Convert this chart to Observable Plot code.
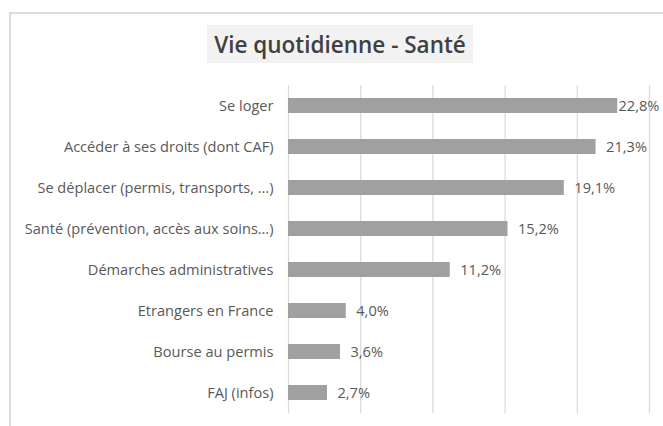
<!DOCTYPE html>
<html>
<head>
<meta charset="utf-8">
<script src="https://cdn.jsdelivr.net/npm/d3@7"></script>
<script src="https://cdn.jsdelivr.net/npm/@observablehq/plot@0.6"></script>
<style>
  html, body { margin: 0; padding: 0; background: #fff; width: 663px; height: 426px; overflow: hidden; }
  #frame { position: absolute; left: 9px; top: 12px; width: 800px; height: 600px; border: 2px solid #dcdcdc; box-sizing: border-box; }
  #title { position: absolute; left: 207px; top: 25px; width: 266px; height: 38px; background: #f2f2f2;
           font-family: "Open Sans", sans-serif; font-weight: 600; font-size: 22.5px; color: #404040;
           display: flex; align-items: center; justify-content: center; white-space: nowrap; }
  #chart { position: absolute; left: 0; top: 0; }
</style>
</head>
<body>
<div id="frame"></div>
<div id="title">Vie quotidienne - Santé</div>
<div id="chart"></div>
<script>
const categories = [
  "Se loger",
  "Accéder à ses droits (dont CAF)",
  "Se déplacer (permis, transports, …)",
  "Santé (prévention, accès aux soins…)",
  "Démarches administratives",
  "Etrangers en France",
  "Bourse au permis",
  "FAJ (infos)"
];
const values = [22.8, 21.3, 19.1, 15.2, 11.2, 4.0, 3.6, 2.7];
const valueLabels = ["22,8%", "21,3%", "19,1%", "15,2%", "11,2%", "4,0%", "3,6%", "2,7%"];
const gridTicks = [0, 5, 10, 15, 20, 25];

const data = categories.map((c, i) => ({category: c, value: values[i], label: valueLabels[i]}));

const chart = Plot.plot({
  width: 663,
  height: 426,
  marginLeft: 288,
  marginRight: 14,
  marginTop: 85,
  marginBottom: 13,
  style: {background: "transparent", fontFamily: "'Open Sans', sans-serif", color: "#595959"},
  x: {domain: [0, 25], axis: null},
  y: {domain: categories, paddingInner: 0.63, paddingOuter: 0.315, axis: null},
  marks: [
    Plot.ruleX(gridTicks, {stroke: "#d9d9d9", strokeWidth: 1.2}),
    Plot.barX(data, {x: "value", y: "category", fill: "#a0a0a0"}),
    Plot.text(data, {
      x: "value", y: "category", text: "label", textAnchor: "start", dx: 10,
      fill: "#595959", fontSize: 14.6,
      render(index, scales, values, dimensions, context, next) {
        const limit = dimensions.width - dimensions.marginRight - 41;
        const x = Array.from(values.x, v => Math.min(v, limit));
        return next(index, scales, {...values, x}, dimensions, context);
      }
    }),
    Plot.axisY({tickSize: 0, tickPadding: 15, fontSize: 14.6, fill: "#595959", label: null})
  ]
});
document.getElementById("chart").appendChild(chart);
</script>
</body>
</html>
